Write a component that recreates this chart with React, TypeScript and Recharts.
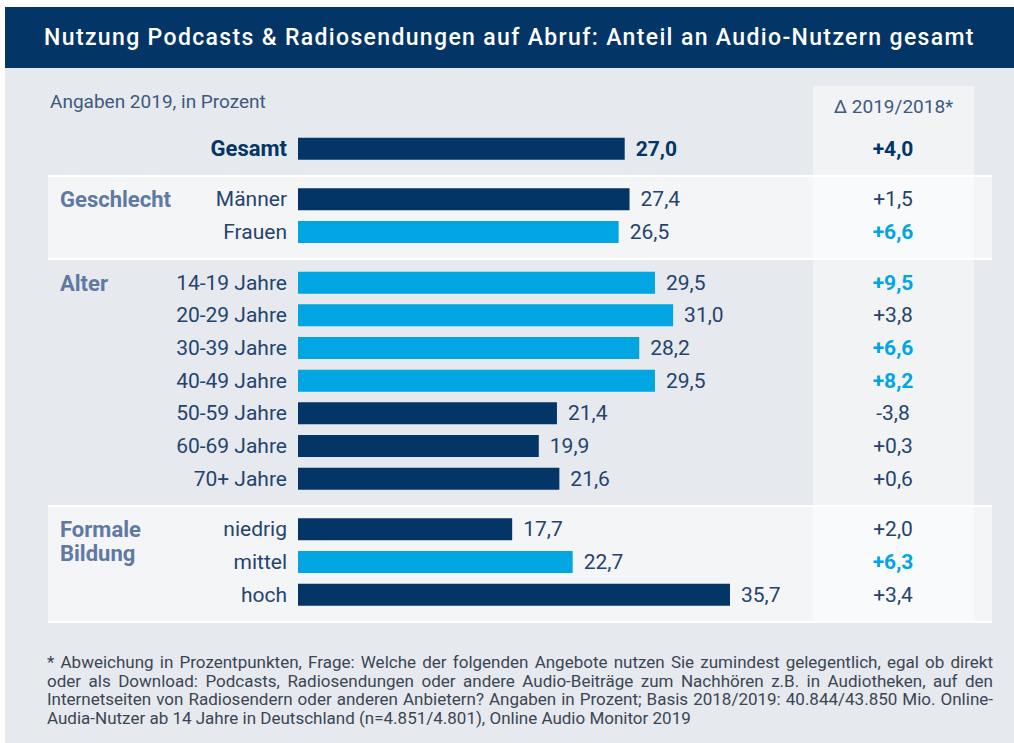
import { BarChart, Bar, XAxis, YAxis, Cell, LabelList } from "recharts";

// Werte aus der Grafik (Angaben 2019, in Prozent)
const categories = [
  "Gesamt",
  "Männer",
  "Frauen",
  "14-19 Jahre",
  "20-29 Jahre",
  "30-39 Jahre",
  "40-49 Jahre",
  "50-59 Jahre",
  "60-69 Jahre",
  "70+ Jahre",
  "niedrig",
  "mittel",
  "hoch",
];
const values = [27.0, 27.4, 26.5, 29.5, 31.0, 28.2, 29.5, 21.4, 19.9, 21.6, 17.7, 22.7, 35.7];
const deltas = [4.0, 1.5, 6.6, 9.5, 3.8, 6.6, 8.2, -3.8, 0.3, 0.6, 2.0, 6.3, 3.4];
const deltaHighlight = [false, false, true, true, false, true, true, false, false, false, false, true, false];
const lightBar = [false, false, true, true, true, true, true, false, false, false, false, true, false];
const groupNames = ["", "Geschlecht", "Alter", "Formale Bildung"];
const groupOf = [0, 1, 1, 2, 2, 2, 2, 2, 2, 2, 3, 3, 3];

const footnoteLines = [
  "* Abweichung in Prozentpunkten, Frage: Welche der folgenden Angebote nutzen Sie zumindest gelegentlich, egal ob direkt",
  "oder als Download: Podcasts, Radiosendungen oder andere Audio-Beiträge zum Nachhören z.B. in Audiotheken, auf den",
  "Internetseiten von Radiosendern oder anderen Anbietern? Angaben in Prozent; Basis 2018/2019: 40.844/43.850 Mio. Online-",
  "Audia-Nutzer ab 14 Jahre in Deutschland (n=4.851/4.801), Online Audio Monitor 2019",
];

const NAVY = "#033566";
const BLUE = "#00a5e2";
const TEXT = "#24446e";
const GROUP = "#6079a3";
const FONT = "Roboto, 'Noto Sans', sans-serif";

const GROUP_GAP = 0.55;

const data = categories.map((name, i) => ({
  name,
  value: values[i],
  delta: deltas[i],
  pos: i + groupOf[i] * GROUP_GAP,
  group: i > 0 && groupOf[i] !== groupOf[i - 1] ? groupNames[groupOf[i]] : "",
}));

const fmt = (v: number) => v.toFixed(1).replace(".", ",");
const fmtDelta = (v: number) => (v > 0 ? "+" : "") + fmt(v);

function box(p: any) {
  const vb = p.viewBox ?? {};
  return {
    x: Number(p.x ?? vb.x),
    y: Number(p.y ?? vb.y),
    width: Number(p.width ?? vb.width),
    height: Number(p.height ?? vb.height),
  };
}

const renderName = (p: any) => {
  const { x, y, height } = box(p);
  const bold = p.index === 0;
  return (
    <text
      x={x - 11}
      y={y + height / 2}
      textAnchor="end"
      dominantBaseline="central"
      fontFamily={FONT}
      fontSize={bold ? 22 : 21}
      fontWeight={bold ? 700 : 400}
      fill={bold ? NAVY : TEXT}
    >
      {p.value}
    </text>
  );
};

const renderValue = (p: any) => {
  const { x, y, width, height } = box(p);
  const bold = p.index === 0;
  return (
    <text
      x={x + width + 11}
      y={y + height / 2}
      dominantBaseline="central"
      fontFamily={FONT}
      fontSize={21}
      fontWeight={bold ? 700 : 400}
      fill={bold ? NAVY : TEXT}
    >
      {fmt(Number(p.value))}
    </text>
  );
};

const renderDelta = (p: any) => {
  const { y, height } = box(p);
  const hi = deltaHighlight[p.index];
  const bold = hi || p.index === 0;
  return (
    <text
      x={893}
      y={y + height / 2}
      textAnchor="middle"
      dominantBaseline="central"
      fontFamily={FONT}
      fontSize={21}
      fontWeight={bold ? 700 : 400}
      fill={hi ? BLUE : p.index === 0 ? NAVY : TEXT}
    >
      {fmtDelta(Number(p.value))}
    </text>
  );
};

const renderGroup = (p: any) => {
  if (!p.value) return null;
  const { y, height } = box(p);
  const words = String(p.value).split(" ");
  return (
    <text
      x={60}
      y={y + height / 2}
      dominantBaseline="central"
      fontFamily={FONT}
      fontSize={22}
      fontWeight={700}
      fill={GROUP}
    >
      {words.map((w, i) => (
        <tspan key={w} x={60} dy={i === 0 ? 0 : 24}>
          {w}
        </tspan>
      ))}
    </text>
  );
};

export default function App() {
  return (
    <div
      style={{
        position: "absolute",
        left: 0,
        top: 0,
        width: 1014,
        height: 743,
        background: "#fff",
        fontFamily: FONT,
        overflow: "hidden",
      }}
    >
      <div style={{ position: "absolute", left: 5, top: 68, width: 1009, height: 675, background: "#e6e9ed" }} />
      <div
        style={{
          position: "absolute",
          left: 5,
          top: 7,
          width: 1009,
          height: 61,
          background: NAVY,
          color: "#fff",
          fontSize: 23,
          fontWeight: 500,
          letterSpacing: 1.35,
          display: "flex",
          alignItems: "center",
          justifyContent: "center",
          whiteSpace: "nowrap",
        }}
      >
        Nutzung Podcasts &amp; Radiosendungen auf Abruf: Anteil an Audio-Nutzern gesamt
      </div>
      <div style={{ position: "absolute", left: 813, top: 86, width: 161, height: 537, background: "#f2f3f5" }} />
      <div
        style={{
          position: "absolute",
          left: 48,
          top: 175,
          width: 944,
          height: 81,
          background: "rgba(255,255,255,0.56)",
          borderTop: "2px solid #fff",
          borderBottom: "2px solid #fff",
        }}
      />
      <div
        style={{
          position: "absolute",
          left: 48,
          top: 505,
          width: 944,
          height: 114,
          background: "rgba(255,255,255,0.56)",
          borderTop: "2px solid #fff",
          borderBottom: "2px solid #fff",
        }}
      />
      <div style={{ position: "absolute", left: 50, top: 90, fontSize: 19, color: "#3d5a7f", whiteSpace: "nowrap" }}>
        Angaben 2019, in Prozent
      </div>
      <div
        style={{
          position: "absolute",
          left: 813,
          width: 161,
          top: 95,
          fontSize: 19,
          color: "#3d5a7f",
          textAlign: "center",
          whiteSpace: "nowrap",
        }}
      >
        Δ 2019/2018*
      </div>

      <div style={{ position: "absolute", left: 0, top: 0 }}>
        <BarChart
          width={1014}
          height={743}
          layout="vertical"
          data={data}
          margin={{ top: 129.4, right: 111, bottom: 128.4, left: 298 }}
        >
          <XAxis type="number" domain={[0, 50]} hide />
          <YAxis type="number" dataKey="pos" domain={[-0.6, 14.25]} hide />
          <Bar dataKey="value" barSize={22} isAnimationActive={false}>
            {data.map((d, i) => (
              <Cell key={d.name} fill={lightBar[i] ? BLUE : NAVY} />
            ))}
            <LabelList dataKey="name" content={renderName} />
            <LabelList dataKey="value" content={renderValue} />
            <LabelList dataKey="delta" content={renderDelta} />
            <LabelList dataKey="group" content={renderGroup} />
          </Bar>
        </BarChart>
      </div>

      <div
        style={{
          position: "absolute",
          left: 47,
          top: 653,
          width: 946,
          fontSize: 17,
          lineHeight: "18.5px",
          color: "#3a4654",
        }}
      >
        {footnoteLines.map((line, i) => (
          <div
            key={i}
            style={{
              whiteSpace: "nowrap",
              textAlign: i < footnoteLines.length - 1 ? "justify" : "left",
              textAlignLast: i < footnoteLines.length - 1 ? "justify" : "left",
            }}
          >
            {line}
          </div>
        ))}
      </div>
    </div>
  );
}
